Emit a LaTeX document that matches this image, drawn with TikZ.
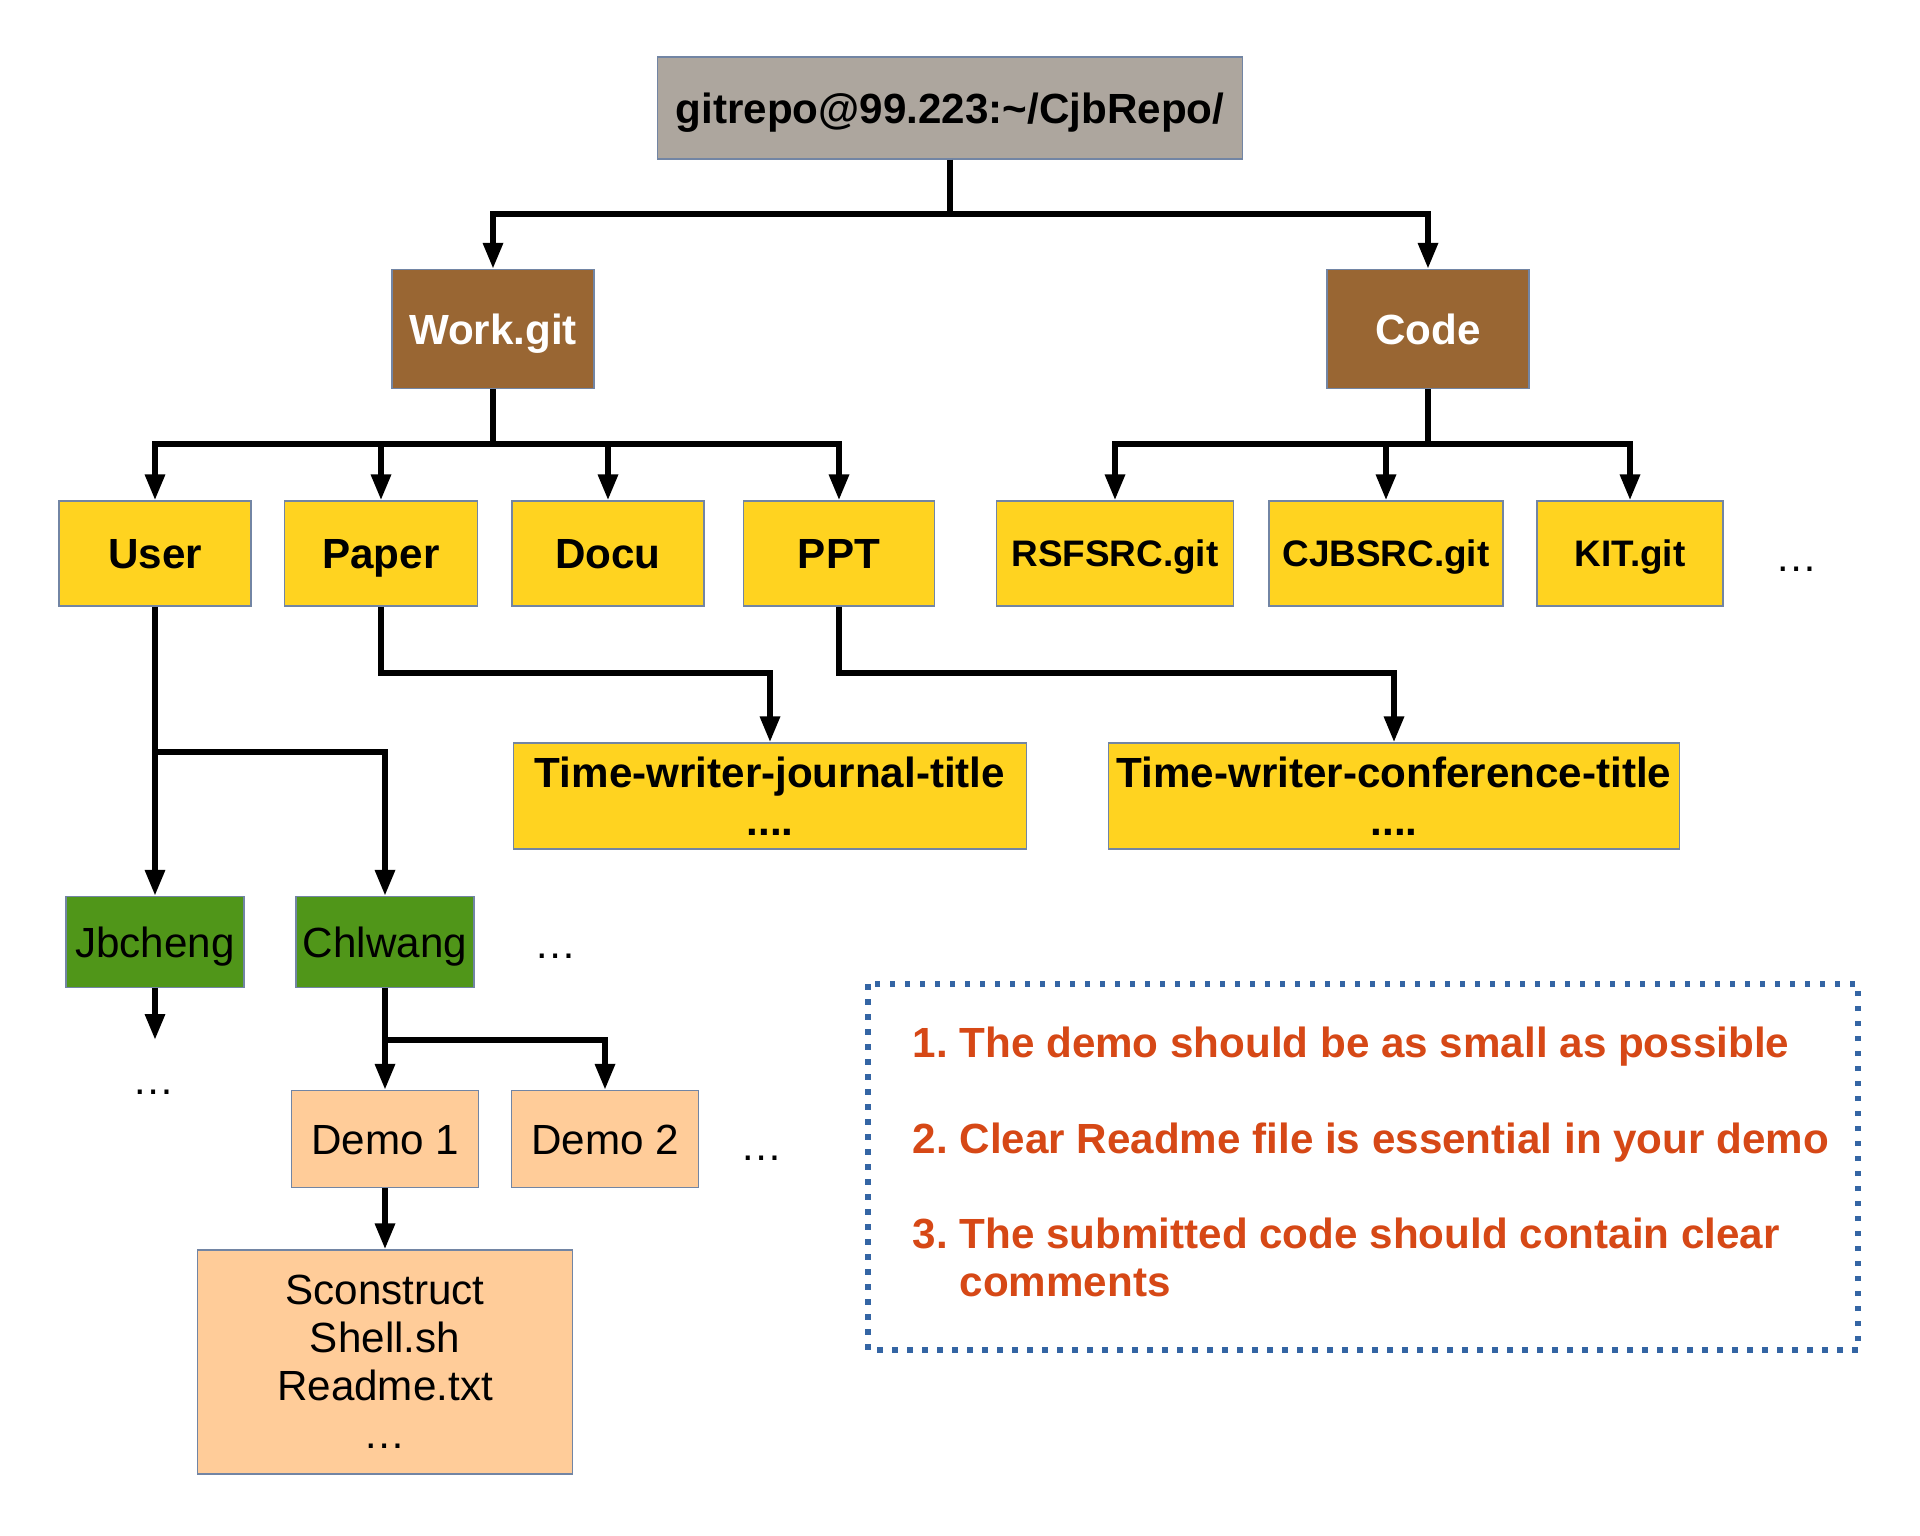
\documentclass[tikz,border=0pt]{standalone}
\usepackage{fontspec}
\setmainfont{Liberation Sans}
\usepackage{xcolor}
\usepackage{tikz}
\usetikzlibrary{arrows.meta}
\definecolor{stone}{rgb}{0.678, 0.651, 0.620}
\definecolor{walnut}{rgb}{0.600, 0.400, 0.200}
\definecolor{mustard}{rgb}{1.0, 0.827, 0.125}
\definecolor{leaf}{rgb}{0.314, 0.588, 0.098}
\definecolor{peach}{rgb}{1.0, 0.800, 0.600}
\definecolor{rust}{rgb}{0.839, 0.282, 0.086}
\definecolor{cobalt}{rgb}{0.204, 0.396, 0.643}
\definecolor{slate}{rgb}{0.447, 0.522, 0.643}
\newcommand{\twelve}{\fontsize{12}{13.7}\selectfont}
\frenchspacing

\begin{document}
\begin{tikzpicture}[x=1mm,y=-1mm]
	\tikzstyle{box} = [draw=slate, line width=0.35pt, inner sep=0pt, align=center, font=\twelve]
	\tikzstyle{oneline} = [text height=8.6pt, text depth=0pt]
	\tikzstyle{rootbox} = [box, oneline, fill=stone, font=\twelve\bfseries, minimum width=58.5mm, minimum height=10.2mm]
	\tikzstyle{dirbox} = [box, oneline, fill=walnut, text=white, font=\twelve\bfseries, minimum width=20.2mm, minimum height=11.9mm]
	\tikzstyle{subbox} = [box, fill=mustard, font=\twelve\bfseries, minimum height=10.5mm]
	\tikzstyle{gitbox} = [subbox, text height=7.5pt, text depth=0pt, font=\fontsize{10.5}{12}\selectfont\bfseries]
	\tikzstyle{userbox} = [box, oneline, fill=leaf, minimum width=17.8mm, minimum height=9.1mm]
	\tikzstyle{demobox} = [box, fill=peach, minimum width=18.7mm, minimum height=9.7mm]
	\tikzstyle{dots} = [inner sep=0pt, font=\twelve]
	\tikzstyle{tip} = [inner sep=0pt, text=rust, font=\twelve\bfseries]
	\tikzstyle{link} = [line width=0.6mm]
	\tikzstyle{arr} = [link, -{Triangle[length=2.6mm,width=1.9mm]}]

	% Canvas
	\path[use as bounding box, fill=white] (0,0) rectangle (192,153.6);

	% Repository root and first level
	\node[rootbox] (root) at (95,10.8) {gitrepo@99.223:\textasciitilde/CjbRepo/};
	\node[dirbox] (work) at (49.3,32.9) {Work.git};
	\node[dirbox] (code) at (142.8,32.9) {Code};

	% Second level
	\node[subbox, oneline, minimum width=19.2mm] (user) at (15.5,55.35) {User};
	\node[subbox, oneline, minimum width=19.3mm] (paper) at (38.1,55.35) {Paper};
	\node[subbox, oneline, minimum width=19.2mm] (docu) at (60.8,55.35) {Docu};
	\node[subbox, oneline, minimum width=19.1mm] (ppt) at (83.9,55.35) {PPT};
	\node[gitbox, minimum width=23.7mm] (rsf) at (111.5,55.35) {RSFSRC.git};
	\node[gitbox, minimum width=23.4mm] (cjb) at (138.6,55.35) {CJBSRC.git};
	\node[gitbox, minimum width=18.6mm] (kit) at (163.0,55.35) {KIT.git};
	\node[dots] (moregit) at (179.7,56.9) {…};

	% Titles
	\node[subbox, minimum width=51.3mm, minimum height=10.6mm] (journal) at (77.0,79.6) {Time-writer-journal-title\\....};
	\node[subbox, minimum width=57.1mm, minimum height=10.6mm] (conference) at (139.4,79.6) {Time-writer-conference-title\\....};

	% Users and demos
	\node[userbox] (jb) at (15.5,94.2) {Jbcheng};
	\node[userbox] (chl) at (38.5,94.2) {Chlwang};
	\node[dots] (moreuser) at (55.6,95.6) {…};
	\node[dots] (morejb) at (15.4,109.2) {…};
	\node[demobox, oneline] (demo1) at (38.5,113.9) {Demo 1};
	\node[demobox, oneline] (demo2) at (60.5,113.9) {Demo 2};
	\node[dots] (moredemo) at (76.2,115.8) {…};
	\node[demobox, minimum width=37.5mm, minimum height=22.4mm] (files) at (38.5,136.2) {Sconstruct\\Shell.sh\\Readme.txt\\…};

	% Bus points
	\coordinate (rootbus) at (95,21.4);
	\coordinate (workbus) at (49.3,44.4);
	\coordinate (codebus) at (142.8,44.4);
	\coordinate (paperbus) at (38.1,67.3);
	\coordinate (pptbus) at (83.9,67.3);
	\coordinate (userbus) at (15.5,75.2);
	\coordinate (chlbus) at (38.5,104.0);
	\coordinate (jbend) at (15.5,104.0);

	% Draw connectors
	\draw[link] (root) -- (rootbus);
	\foreach \n in {work,code}
	{
		\draw[arr] (rootbus) -| (\n);
	}
	\draw[link] (work) -- (workbus);
	\foreach \n in {user,paper,docu,ppt}
	{
		\draw[arr] (workbus) -| (\n);
	}
	\draw[link] (code) -- (codebus);
	\foreach \n in {rsf,cjb,kit}
	{
		\draw[arr] (codebus) -| (\n);
	}
	\draw[arr] (paper) -- (paperbus) -| (journal);
	\draw[arr] (ppt) -- (pptbus) -| (conference);
	\draw[arr] (user) -- (jb);
	\draw[arr] (userbus) -| (chl);
	\draw[arr] (jb) -- (jbend);
	\draw[arr] (chl) -- (demo1);
	\draw[arr] (chlbus) -| (demo2);
	\draw[arr] (demo1) -- (files);

	% Notes
	\draw[cobalt, line width=0.55mm, dash pattern=on 0.55mm off 0.95mm] (86.8,98.4) rectangle (185.8,135.0);
	\node[tip, anchor=base west] (tip1) at (91.2,105.7) {1. The demo should be as small as possible};
	\node[tip, anchor=base west] (tip2) at (91.2,115.3) {2. Clear Readme file is essential in your demo};
	\node[tip, anchor=base west] (tip3) at (91.2,124.8) {\begin{tabular}[t]{@{}l@{\ }l@{}}3.&The submitted code should contain clear\\&comments\end{tabular}};
\end{tikzpicture}
\end{document}
